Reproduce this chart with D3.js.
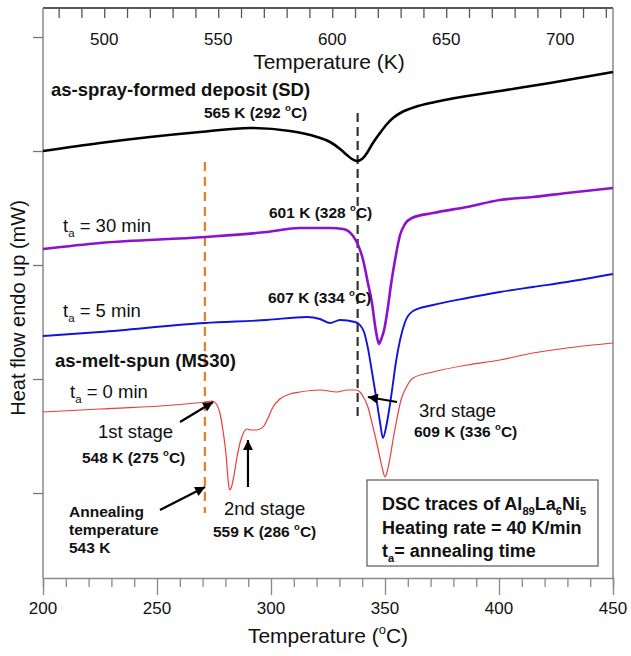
<!DOCTYPE html>
<html><head><meta charset="utf-8">
<script src="https://cdn.jsdelivr.net/npm/d3@7"></script>
<style>
body{margin:0;background:#fff}
text{font-family:"Liberation Sans",Arial,Helvetica,sans-serif;fill:#111}
</style>
</head><body>
<svg id="c" width="631" height="656"></svg>
<script>
// ---------- DATA (temperature in °C, heat flow in mW, arbitrary offset) ----------
const tempSD  = [200,225,246.9,268.9,290.8,308.3,320.2,325.9,330.3,333.3,335.5,337.7,339.9,342.1,344.7,347.8,350.9,353.5,357.5,363.2,371.9,400.4,422.4,450];
const heatSD  = [42.7,43.5,44.1,44.6,45.0,44.7,44.1,43.6,42.9,42.3,41.9,41.7,41.9,42.5,43.5,44.5,45.4,46.0,46.6,47.1,47.6,48.7,49.5,50.6];

const temp30  = [200,225,271.1,298.2,312.7,325.9,331.6,336.0,338.2,340.4,342.5,344.3,345.6,346.5,347.4,348.2,349.6,351.3,352.6,354.4,356.6,358.8,361.8,371.1,386.0,400.4,414.9,429.8,450];
const heat30  = [32.9,33.5,34.1,34.6,35.0,35.0,34.9,34.2,33.3,31.8,29.5,27.5,25.3,24.1,23.4,23.8,24.8,27.1,29.3,31.8,34.3,35.4,36.0,36.5,37.1,37.8,38.1,38.5,39.0];

const temp5   = [200,225,271.1,298.2,315.8,321.5,325.9,330.3,336.8,339.0,340.8,342.5,344.3,346.1,347.8,349.1,350.4,351.8,353.1,354.8,356.6,358.8,362.3,371.1,386.0,400.4,414.9,429.8,450];
const heat5   = [24.2,24.6,25.5,25.8,26.1,25.9,25.5,25.8,25.6,25.3,24.6,23.0,20.6,18.1,15.6,14.0,15.0,16.8,18.8,21.6,23.8,25.6,26.7,27.3,28.0,28.6,29.1,29.6,30.4];

const temp0   = [200,225,271.1,274.1,276.3,277.6,278.9,280.3,281.1,281.8,282.5,283.8,285.1,286.4,287.7,289.5,291.2,293.4,295.2,296.9,298.7,300.9,303.9,308.3,312.7,321.5,328.9,333.3,337.3,339.0,340.8,342.5,344.3,346.1,347.8,349.1,350.0,350.9,352.2,353.5,355.3,357.0,359.2,362.3,371.1,386.0,400.4,414.9,429.8,450];
const heat0   = [16.6,16.9,17.6,17.7,17.3,16.5,14.8,12.3,10.0,8.8,9.0,10.3,12.1,13.5,14.4,14.9,14.8,14.8,14.9,15.2,16.0,17.1,17.9,18.4,18.6,18.8,18.6,18.8,18.8,18.6,18.0,17.1,15.5,13.8,12.0,10.7,10.1,10.6,12.0,13.8,16.0,17.8,19.0,20.0,20.6,21.3,21.8,22.5,23.0,23.5];

const celsiusLabels = [200,250,300,350,400,450];
const kelvinLabels  = [500,550,600,650,700];
const heatTicks     = [8.5,19.9,31.3,42.7,54.1];
const annealTempC   = 271;   // 543 K marker (dashed orange)
const thirdStageC   = 338;   // dashed black guide

// ---------- LAYOUT ----------
const svg = d3.select("#c");
const L=43, R=613, T=8, B=578;
const x = d3.scaleLinear().domain([200,450]).range([L,R]);
const xK = d3.scaleLinear().domain([473.15,723.15]).range([L,R]);
const y = d3.scaleLinear().domain([0,57]).range([B,T]);

function rich(g, px, py, parts, size, weight, anchor){
  const t = g.append("text").attr("x",px).attr("y",py)
    .style("font-size",size+"px").style("font-weight",weight||"normal")
    .attr("text-anchor",anchor||"start");
  let shift=0;
  parts.forEach(p=>{
    const s = typeof p==="string"?{t:p}:p;
    const ts = t.append("tspan").text(s.t);
    const target = s.sup? -0.42*size : s.sub? 0.28*size : 0;
    ts.attr("dy", target-shift); shift=target;
    if(s.sup||s.sub) ts.style("font-size",(size*0.62)+"px");
  });
  return t;
}

// frame lines
svg.append("line").attr("x1",L).attr("x2",R).attr("y1",T).attr("y2",T).attr("stroke","#222").attr("stroke-width",1.5);
svg.append("line").attr("x1",L).attr("x2",L).attr("y1",T).attr("y2",B).attr("stroke","#8a8a8a").attr("stroke-width",1.5);
svg.append("line").attr("x1",R).attr("x2",R).attr("y1",T).attr("y2",B).attr("stroke","#8a8a8a").attr("stroke-width",1.5);

// bottom axis (°C)
const gB = svg.append("g").attr("transform",`translate(0,${B})`);
gB.call(d3.axisBottom(x).tickValues(d3.range(200,451,10)).tickSize(9).tickFormat(""));
gB.selectAll(".tick line").attr("stroke","#888").attr("stroke-width",1.3)
  .filter(d=>celsiusLabels.includes(d)).attr("y2",17);
gB.select(".domain").attr("stroke","#8a8a8a").attr("stroke-width",1.5);
celsiusLabels.forEach(v=>{
  gB.append("text").attr("x",x(v)).attr("y",36).attr("text-anchor","middle")
    .style("font-size","17px").text(v);
});
rich(svg, (L+R)/2, 643, ["Temperature (",{t:"o",sup:true},"C)"], 21, "normal","middle");

// top axis (K) ticks pointing inward
const gT = svg.append("g").attr("transform",`translate(0,${T})`);
gT.call(d3.axisBottom(xK).tickValues(d3.range(480,721,10)).tickSize(10).tickFormat(""));
gT.select(".domain").remove();
gT.selectAll(".tick line").attr("stroke","#555").attr("stroke-width",1.3);
kelvinLabels.forEach(v=>{
  gT.append("text").attr("x",xK(v)).attr("y",37).attr("text-anchor","middle")
    .style("font-size","17px").text(v);
});
svg.append("text").attr("x",(L+R)/2+1).attr("y",69).attr("text-anchor","middle")
  .style("font-size","21px").text("Temperature (K)");

// left axis ticks (outward, no labels)
const gL = svg.append("g").attr("transform",`translate(${L},0)`);
gL.call(d3.axisLeft(y).tickValues(heatTicks).tickSize(10).tickFormat(""));
gL.select(".domain").remove();
gL.selectAll(".tick line").attr("stroke","#777").attr("stroke-width",1.3);
svg.append("text").attr("transform","translate(25,308) rotate(-90)").attr("text-anchor","middle")
  .style("font-size","20px").text("Heat flow endo up (mW)");

// dashed guide lines
svg.append("line").attr("x1",x(thirdStageC)).attr("x2",x(thirdStageC))
  .attr("y1",y(46.5)).attr("y2",y(16.0)).attr("stroke","#333").attr("stroke-width",2.2)
  .attr("stroke-dasharray","9,5");
svg.append("line").attr("x1",x(annealTempC)).attr("x2",x(annealTempC))
  .attr("y1",y(41.6)).attr("y2",y(6.5)).attr("stroke","#f07a22").attr("stroke-width",2.2)
  .attr("stroke-dasharray","9,6");

// curves
const line = d3.line().x(d=>x(d[0])).y(d=>y(d[1])).curve(d3.curveMonotoneX);
const series = [
  {t:tempSD,h:heatSD,c:"#000000",w:2.6},
  {t:temp30,h:heat30,c:"#8e12cc",w:2.6},
  {t:temp5, h:heat5, c:"#1414d8",w:1.9},
  {t:temp0, h:heat0, c:"#ee3b3b",w:1.2}
];
series.forEach(s=>{
  svg.append("path").datum(d3.zip(s.t,s.h)).attr("d",line)
    .attr("fill","none").attr("stroke",s.c).attr("stroke-width",s.w)
    .attr("stroke-linejoin","round");
});

// arrows
svg.append("defs").append("marker").attr("id","ah").attr("viewBox","0 0 10 10")
  .attr("refX",10).attr("refY",5).attr("markerWidth",5).attr("markerHeight",4.5)
  .attr("orient","auto").attr("markerUnits","strokeWidth")
  .append("path").attr("d","M0,0 L10,5 L0,10 z").attr("fill","#000");
const arrows = [
  [[260.1,15.6],[274.6,17.6]],
  [[251.3,6.8],[271.1,9.1]],
  [[289.9,9.1],[289.9,13.8]],
  [[355.3,17.6],[342.5,18.1]]
];
arrows.forEach(a=>{
  svg.append("line").attr("x1",x(a[0][0])).attr("y1",y(a[0][1]))
    .attr("x2",x(a[1][0])).attr("y2",y(a[1][1]))
    .attr("stroke","#000").attr("stroke-width",2.2).attr("marker-end","url(#ah)");
});

// annotations
rich(svg,51,96,["as-spray-formed deposit (SD)"],18.5,"bold");
rich(svg,204,118,["565 K (292 ",{t:"o",sup:true},"C)"],15.5,"bold");
rich(svg,63,232,["t",{t:"a",sub:true},{t:" = 30 min"}],18.5,"normal");
rich(svg,269,218,["601 K (328 ",{t:"o",sup:true},"C)"],15.5,"bold");
rich(svg,63,317,["t",{t:"a",sub:true},{t:" = 5 min"}],18.5,"normal");
rich(svg,268,303,["607 K (334 ",{t:"o",sup:true},"C)"],15.5,"bold");
rich(svg,55,367,["as-melt-spun (MS30)"],18.5,"bold");
rich(svg,70,398,["t",{t:"a",sub:true},{t:" = 0 min"}],18.5,"normal");
rich(svg,98,438,["1st stage"],18.5,"normal");
rich(svg,82,463,["548 K (275 ",{t:"o",sup:true},"C)"],15.5,"bold");
rich(svg,69,517,["Annealing"],15.5,"bold");
rich(svg,69,535,["temperature"],15.5,"bold");
rich(svg,69,553,["543 K"],15.5,"bold");
rich(svg,224,515,["2nd stage"],18.5,"normal");
rich(svg,213,537,["559 K (286 ",{t:"o",sup:true},"C)"],15.5,"bold");
rich(svg,419,417,["3rd stage"],18.5,"normal");
rich(svg,414,437,["609 K (336 ",{t:"o",sup:true},"C)"],15.5,"bold");

// info box
svg.append("rect").attr("x",367).attr("y",480).attr("width",231).attr("height",86)
  .attr("fill","#fff").attr("stroke","#666").attr("stroke-width",1.3);
rich(svg,382,510,["DSC traces of Al",{t:"89",sub:true},{t:"La"},{t:"6",sub:true},{t:"Ni"},{t:"5",sub:true}],18,"bold");
rich(svg,382,534,["Heating rate = 40 K/min"],18,"bold");
rich(svg,382,557,["t",{t:"a",sub:true},{t:"= annealing time"}],18,"bold");
</script>
</body></html>
